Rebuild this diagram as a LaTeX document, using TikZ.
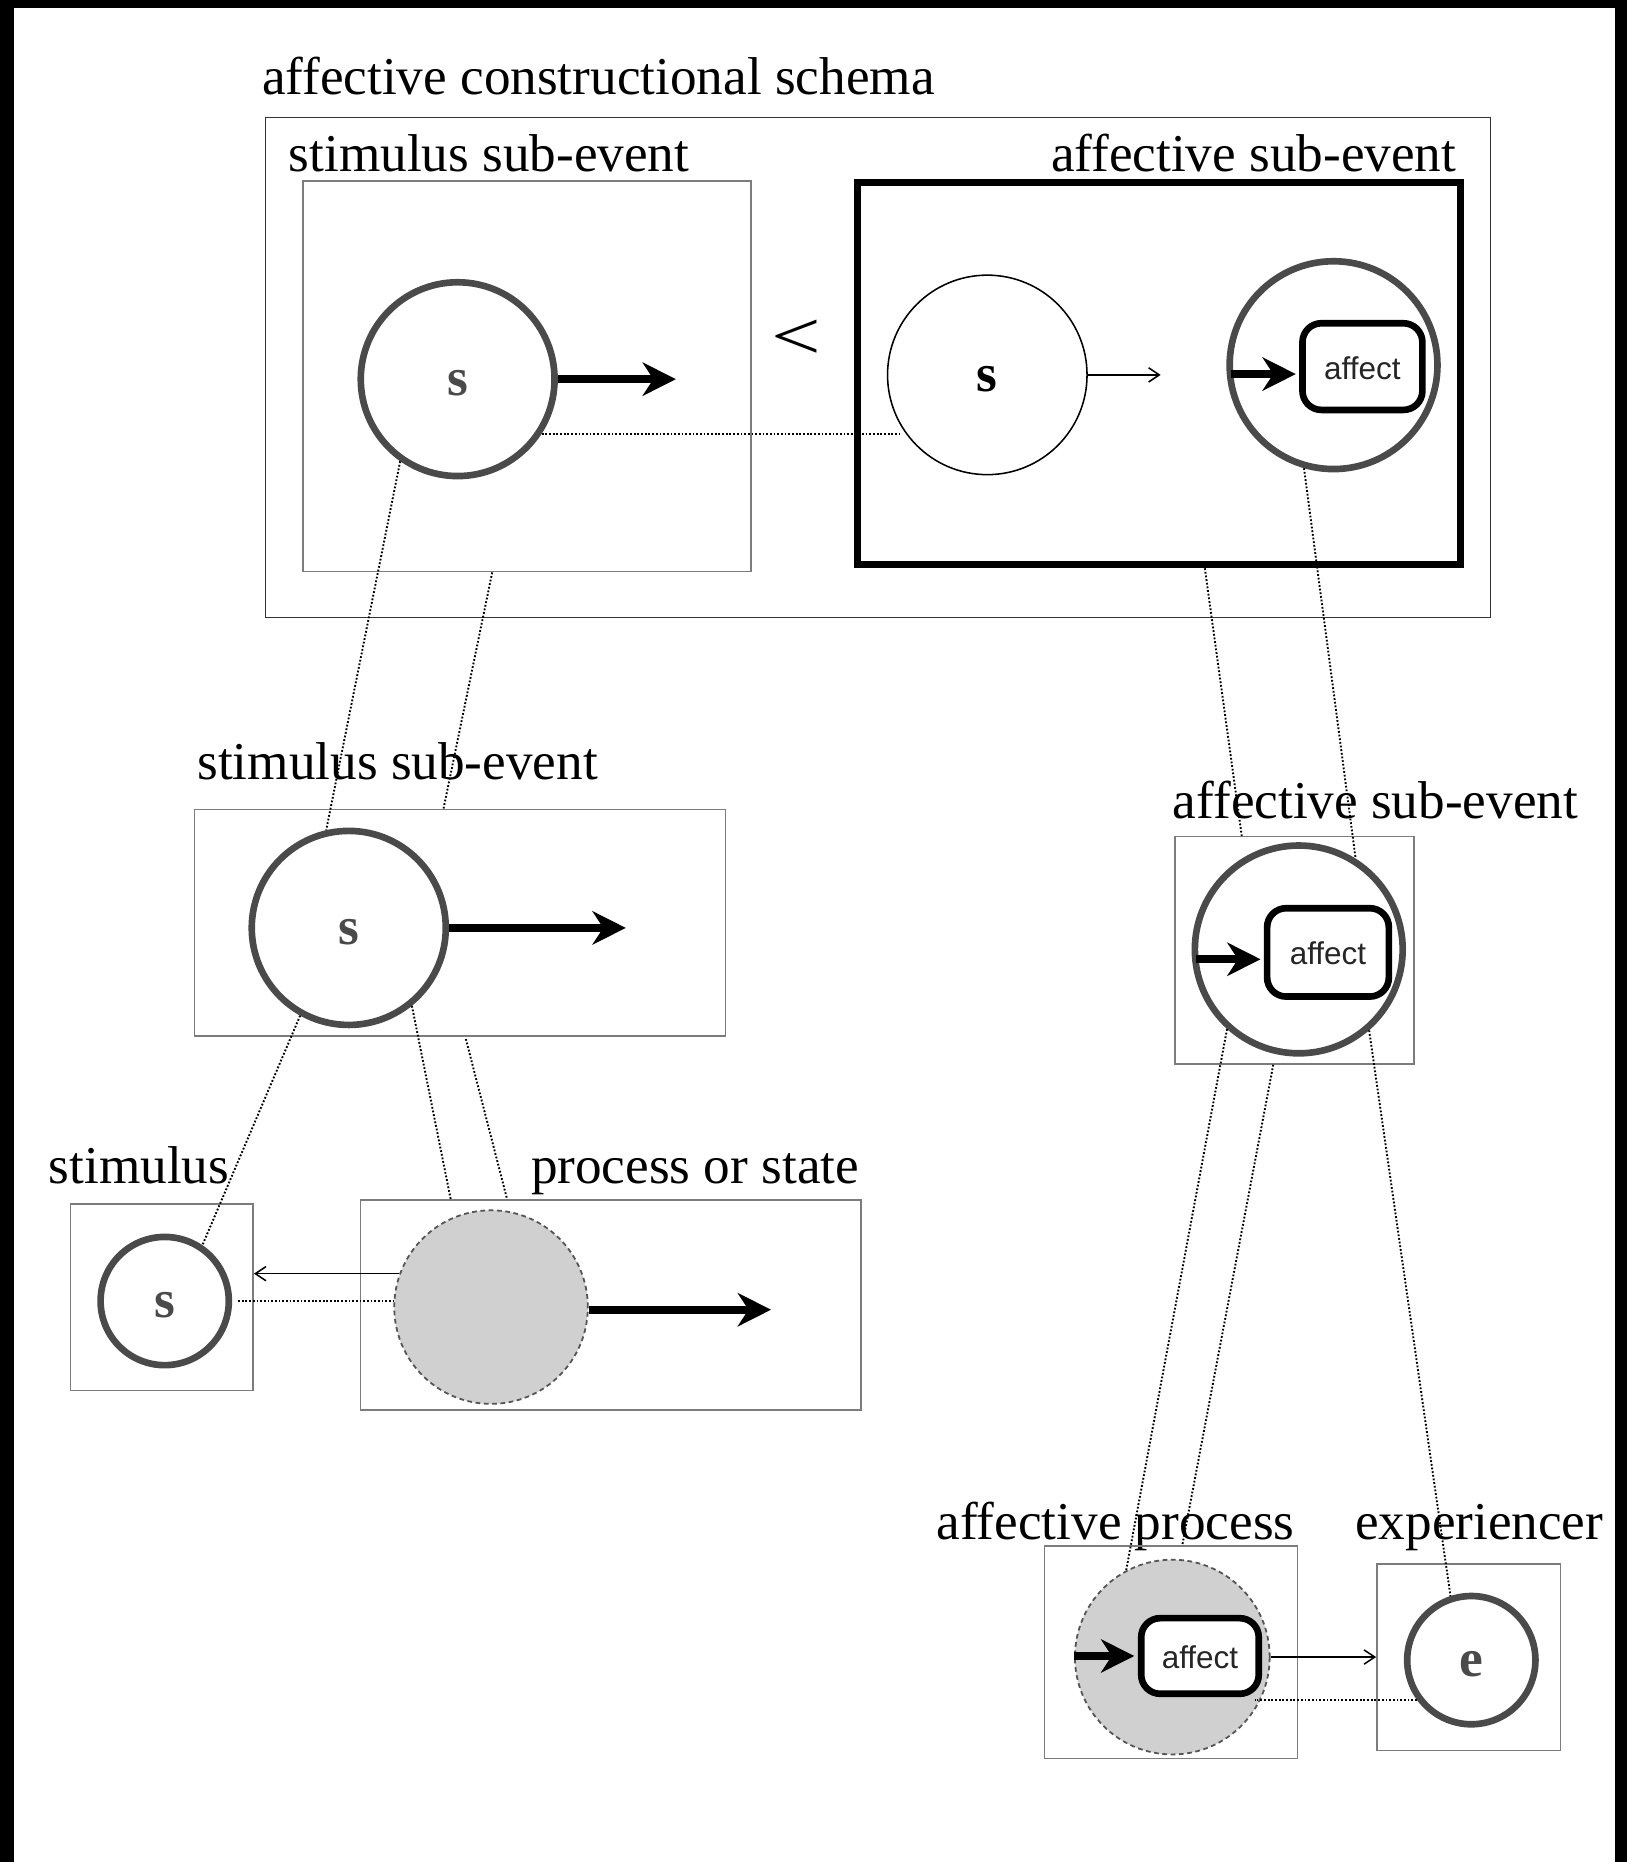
\documentclass[tikz,border=0pt]{standalone}
\usepackage{fontspec}
\usepackage{graphicx}
\setmainfont{Liberation Serif}
\newfontfamily\affsans{Liberation Sans}
\usetikzlibrary{arrows.meta,calc}

\definecolor{ringgray}{HTML}{4A4A4A}
\definecolor{boxgray}{HTML}{7C7C7C}
\definecolor{framegray}{HTML}{333333}
\definecolor{discfill}{HTML}{D0D0D0}
\definecolor{discedge}{HTML}{555555}

\newcommand\lblfnt{\fontsize{44.8}{50}\selectfont}
\newcommand\cirfnt{\fontsize{45}{50}\selectfont\bfseries}
\newcommand\affectfnt{\affsans\fontsize{26.5}{30}\selectfont}

\tikzset{
  lbl/.style={font=\lblfnt, inner sep=0pt, anchor=base west},
  thinbox/.style={rectangle, draw=boxgray, line width=1.3pt, inner sep=0pt},
  ring/.style={circle, draw=ringgray, line width=5.6pt, inner sep=0pt,
    text height=28pt, text depth=0pt, font=\cirfnt, text=ringgray},
  plainring/.style={circle, draw=black, line width=1.3pt, inner sep=0pt,
    text height=28pt, text depth=0pt, font=\cirfnt, text=black},
  procdisc/.style={circle, draw=discedge, fill=discfill, line width=1.5pt,
    dash pattern=on 4pt off 3pt, inner sep=0pt},
  affbox/.style={rectangle, rounded corners=16pt, draw=black, line width=5.6pt,
    fill=white, inner sep=0pt, text height=21.2pt, text depth=0pt,
    font=\affectfnt, text=black!85},
  fatarrow/.style={line width=6.5pt, -{Stealth[length=28pt,width=28pt,inset=9pt]}},
  thinarrow/.style={line width=1.3pt, -{Straight Barb[length=9pt,width=12pt]}},
  dotconn/.style={line width=1.6pt, dash pattern=on 1.5pt off 1.6pt},
}

\begin{document}
\begin{tikzpicture}[x=1pt,y=-1pt]
\useasboundingbox (0,0) rectangle (1370,1568);
\fill[white] (0,0) rectangle (1370,1568);
% black frame bands
\fill[black] (0,0) rectangle (11.8,1568);
\fill[black] (0,0) rectangle (1370,6.7);
\fill[black] (1360,0) rectangle (1370,1568);

% labels
\node[lbl] (tSchema) at (220.5,80) {affective constructional schema};
\node[lbl] (tStimA) at (243,144.5) {stimulus sub-event};
\node[lbl, anchor=base east] (tAffA) at (1226.5,144.5) {affective sub-event};
\node[lbl] (tStimB) at (166,656) {stimulus sub-event};
\node[lbl] (tAffB) at (987.5,689) {affective sub-event};
\node[lbl] (tStim) at (41,997) {stimulus};
\node[lbl] (tProc) at (447,997) {process or state};
\node[lbl] (tAffProc) at (788.5,1296.5) {affective process};
\node[lbl] (tExp) at (1141,1296.5) {experiencer};

% boxes
\node[thinbox, draw=framegray, minimum width=1031.3pt, minimum height=421.2pt] (schema) at (739.35,309.4) {};
\node[thinbox, minimum width=377.4pt, minimum height=329pt] (sb1) at (443.7,316.9) {};
\node[rectangle, draw=black, line width=6pt, inner sep=0pt, minimum width=508pt, minimum height=321.5pt] (ab1) at (976,314.75) {};
\node[thinbox, minimum width=447.4pt, minimum height=190.8pt] (sb2) at (387.3,776.9) {};
\node[thinbox, minimum width=201.5pt, minimum height=191.5pt] (ab2) at (1090.15,800.25) {};
\node[thinbox, minimum width=153.8pt, minimum height=156.9pt] (sb3) at (136.3,1092.55) {};
\node[thinbox, minimum width=421.7pt, minimum height=176.9pt] (pb) at (514.25,1098.85) {};
\node[thinbox, minimum width=213.2pt, minimum height=179pt] (apb) at (986.1,1391.5) {};
\node[thinbox, minimum width=154.5pt, minimum height=157pt] (eb) at (1236.75,1395.5) {};

% precedence sign
\node[inner sep=0pt, anchor=base west, font=\fontsize{58}{60}\selectfont] (prec) at (649.6,302.5) {\scalebox{1.28}[1]{<}};

% participants
\node[ring, minimum size=163.2pt] (c1) at (385.4,319.3) {s};
\node[plainring, minimum size=168pt] (c2) at (831.4,315.7) {s};
\node[ring, minimum size=175pt] (c3) at (1123,307.5) {};
\node[affbox, minimum width=101pt, minimum height=73pt] (r1) at (1147.3,308.7) {affect};
\node[ring, minimum size=163.4pt] (c4) at (293.7,781.4) {s};
\node[ring, minimum size=175pt] (c5) at (1093.7,799.5) {};
\node[affbox, minimum width=102.5pt, minimum height=74.4pt] (r2) at (1118.3,802) {affect};
\node[ring, minimum size=108pt] (c6) at (138.7,1095.6) {s};
\node[procdisc, minimum size=163pt] (c7) at (413.5,1100.7) {};
\node[procdisc, minimum size=164pt] (c8) at (987.2,1395.4) {};
\node[affbox, minimum width=99pt, minimum height=63.7pt] (r3) at (1010.5,1394.5) {affect};
\node[ring, minimum size=108pt] (c9) at (1239,1398) {e};

% heavy arrows
\coordinate (a1tip) at (569.2,319.3);
\coordinate (a2tip) at (527,781.4);
\coordinate (a3tip) at (649.3,1102.9);
\draw[fatarrow] (c1.east) -- (a1tip);
\draw[fatarrow] (c4.east) -- (a2tip);
\draw[fatarrow] ([yshift=-2.2pt]c7.east) -- (a3tip);
\draw[fatarrow] ([xshift=4pt,yshift=-7.5pt]c3.west) -- ([xshift=-2.8pt,yshift=-6.3pt]r1.west);
\draw[fatarrow] ([xshift=3.6pt,yshift=-8.3pt]c5.west) -- ([xshift=-2.75pt,yshift=-5.8pt]r2.west);
\draw[fatarrow] (c8.west |- r3.west) -- ([xshift=-3pt]r3.west);

% light arrows
\coordinate (t1tip) at (977.4,315.7);
\draw[thinarrow] (c2.east) -- (t1tip);
\draw[thinarrow] (c7.160.6) -- (sb3.east |- c7.160.6);
\draw[thinarrow] (c8.east) -- (eb.west |- c8.east);

% correspondence lines
\draw[dotconn] (c1.327.8) -- (c1.327.8 -| c2.210);
\draw[dotconn] (c1.235.4) -- (c4.103.7);
\draw[dotconn] ([xshift=-29.2pt]sb1.south) -- ([xshift=-13.8pt]sb2.north);
\draw[dotconn] (c4.241) -- (c6.56.4);
\draw[dotconn] (c4.309.5) -- ([xshift=-134.75pt]pb.north);
\draw[dotconn] ([xshift=5pt,yshift=-2pt]sb2.south) -- ([xshift=-87.25pt]pb.north);
\draw[dotconn] ([xshift=38.6pt]ab1.south) -- ([xshift=-44.5pt]ab2.north);
\draw[dotconn] (c3.254.1) -- (c5.58);
\draw[dotconn] (c5.228.1) -- (c8.118);
\draw[dotconn] ([xshift=-17.95pt]ab2.south) -- ([xshift=9.5pt]apb.north);
\draw[dotconn] (c5.311) -- (c9.108);
\draw[dotconn] ([xshift=5pt]c6.east) -- (c7.west |- c6.east);
\draw[dotconn] (c9.216.3) -- ([xshift=-13.5pt]c8.east |- c9.216.3);
\end{tikzpicture}
\end{document}
